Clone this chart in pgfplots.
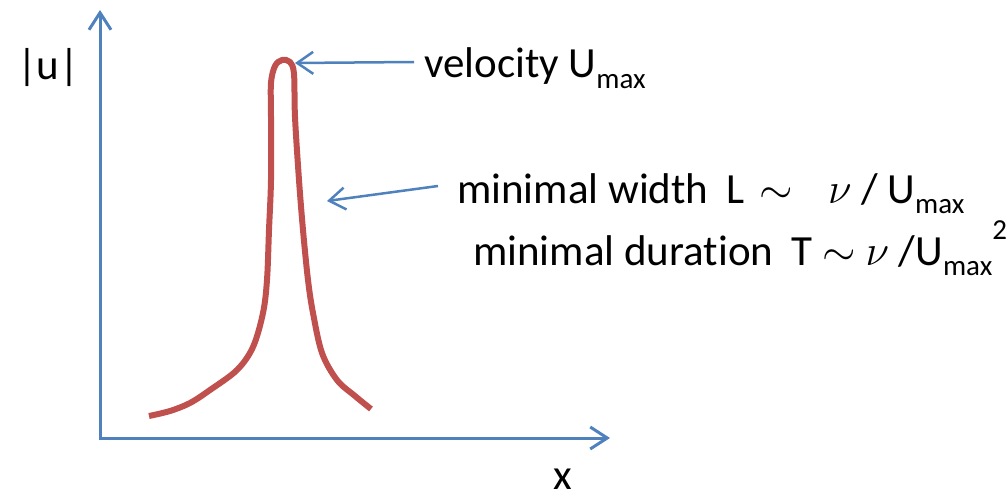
\RequirePackage{fix-cm}
\documentclass[border=0pt]{standalone}
\usepackage{fontspec}
\setmainfont{Carlito}[Ligatures=NoCommon]
\usepackage{pgfplots}
\pgfplotsset{compat=1.18}
\usetikzlibrary{arrows.meta}

\definecolor{axblue}{HTML}{4F81BD}
\definecolor{curvered}{HTML}{C0504D}

\newcommand\sub[1]{\raisebox{-0.25em}{\fontsize{29bp}{31bp}\selectfont #1}}
\newcommand\sups[1]{\raisebox{0.6em}{\fontsize{29bp}{31bp}\selectfont #1}}

\begin{document}
\begin{tikzpicture}[lbl/.style={anchor=base west, inner sep=0pt,
        font=\fontsize{43bp}{52bp}\selectfont}]
\begin{axis}[
    name=ax,
    scale only axis,
    width=1008bp, height=498bp,
    xmin=0, xmax=1008, ymin=0, ymax=498,
    y dir=reverse,
    hide axis,
    clip=false,
]
% coordinate axes
\addplot[axblue, line width=3bp, -{Straight Barb[length=17bp, width=22bp]}]
    coordinates {(100,439.5) (100,10)};
\addplot[axblue, line width=3bp, -{Straight Barb[length=17bp, width=22bp]}]
    coordinates {(98.5,438) (610,438)};

% the velocity peak
\addplot[curvered, line width=6bp, smooth, tension=0.55] coordinates {
    (149,416) (170,411) (190,403) (210,390) (237,370) (253,347) (263,313)
    (267,280) (269,230) (271,180) (271,117) (271,83) (275,66) (282,60)
    (290,62) (294,74) (295,117) (299,180) (303,230) (308,280) (313,313)
    (322,353) (337,380) (355,396) (371,409)
};

% annotation arrows
\addplot[axblue, line width=2.5bp, -{Straight Barb[length=16bp, width=22bp]}]
    coordinates {(414,62) (295,63)};
\addplot[axblue, line width=2.5bp, -{Straight Barb[length=16bp, width=22bp]}]
    coordinates {(438,186) (327,201)};

% texts
\node[lbl] at (axis cs:17,80) {|u|};
\node[lbl] at (axis cs:424,78) {velocity U\sub{max}};
\node[lbl] at (axis cs:457,203)
    {minimal width\hspace{0.2em} L\hspace{0.1em} $\sim$\hspace{0.6em} $\nu$ / U\sub{max}};
\node[lbl] at (axis cs:473,265)
    {minimal duration\hspace{0.2em} T $\sim$ $\nu$ /U\sub{max}\sups{2}};
\node[lbl] at (axis cs:553,489) {x};
\end{axis}
\pgfresetboundingbox
\path[use as bounding box] (ax.south west) rectangle (ax.north east);
\end{tikzpicture}
\end{document}
